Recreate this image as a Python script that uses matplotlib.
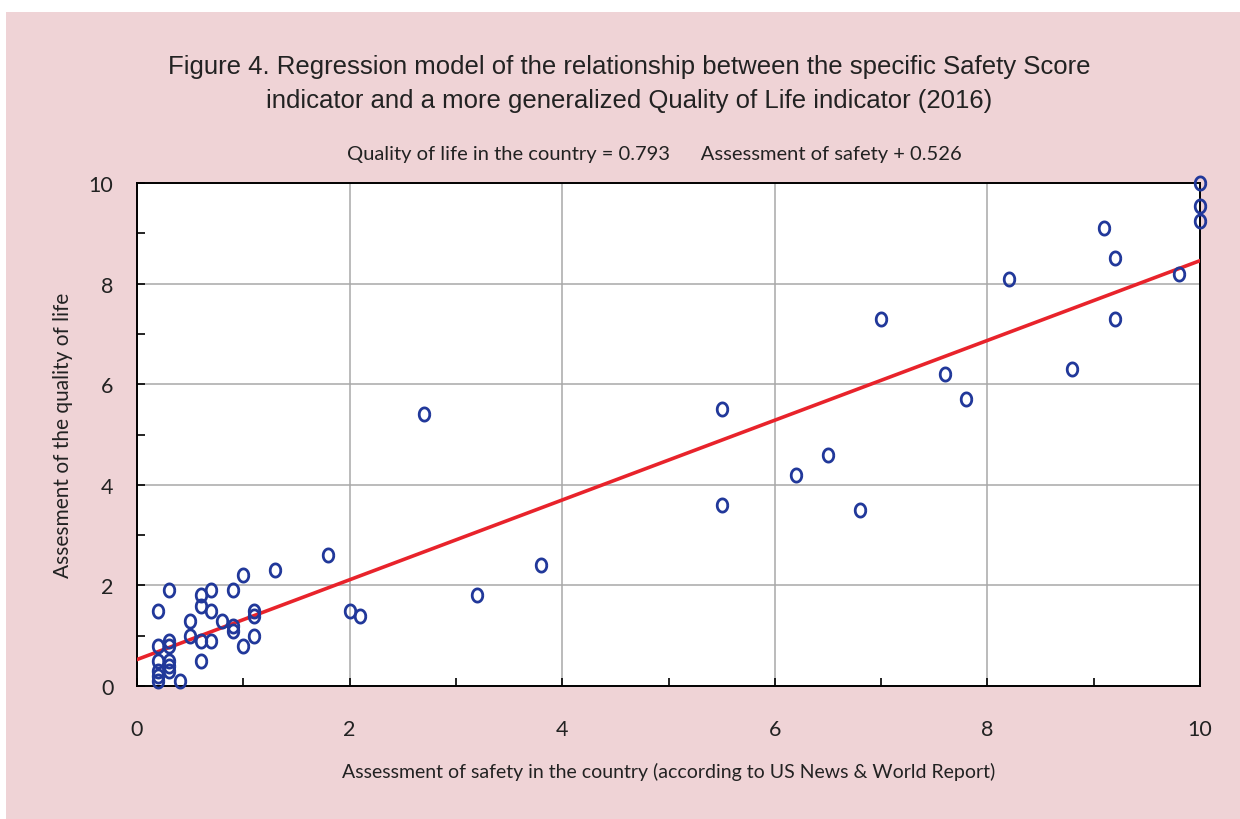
import matplotlib
matplotlib.use("Agg")
import matplotlib.pyplot as plt
import numpy as np
from matplotlib.patches import Rectangle
from matplotlib.ticker import MultipleLocator

# Assessment of safety (x) and quality of life (y)
safety = [0.2, 0.2, 0.2, 0.2, 0.2, 0.2,
          0.3, 0.3, 0.3, 0.3, 0.3, 0.3,
          0.4, 0.5, 0.5,
          0.6, 0.6, 0.6, 0.6,
          0.7, 0.7, 0.7, 0.8,
          0.9, 0.9, 0.9, 1.0, 1.0,
          1.1, 1.1, 1.1, 1.3, 1.8, 2.0, 2.1,
          2.7, 3.2, 3.8, 5.5, 5.5, 6.2, 6.5, 6.8, 7.0,
          7.6, 7.8, 8.2, 8.8, 9.1, 9.2, 9.2, 9.8, 10.0, 10.0, 10.0]
quality = [1.5, 0.8, 0.5, 0.3, 0.2, 0.1,
           1.9, 0.9, 0.8, 0.5, 0.4, 0.3,
           0.1, 1.3, 1.0,
           1.8, 1.6, 0.9, 0.5,
           1.9, 1.5, 0.9, 1.3,
           1.9, 1.2, 1.1, 2.2, 0.8,
           1.5, 1.4, 1.0, 2.3, 2.6, 1.5, 1.4,
           5.4, 1.8, 2.4, 5.5, 3.6, 4.2, 4.6, 3.5, 7.3,
           6.2, 5.7, 8.1, 6.3, 9.1, 8.5, 7.3, 8.2, 10.0, 9.55, 9.25]

slope = 0.793
intercept = 0.526

title = ("Figure 4. Regression model of the relationship between the specific Safety Score\n"
         "indicator and a more generalized Quality of Life indicator (2016)")
equation = "Quality of life in the country = 0.793      Assessment of safety + 0.526"
xlabel = "Assessment of safety in the country (according to US News & World Report)"
ylabel = "Assesment of the quality of life"

PINK = "#EFD3D6"
BLUE = "#21389A"
RED = "#E8232B"
TEXT = "#222222"
BODY_FONT = ["Lato", "DejaVu Sans"]
TITLE_FONT = ["Liberation Sans Narrow", "Liberation Sans", "DejaVu Sans"]

fig = plt.figure(figsize=(12.4, 8.2), dpi=100, facecolor="white")
fig.patches.append(Rectangle((6 / 1240, 0), 1, 807 / 820, transform=fig.transFigure,
                             facecolor=PINK, edgecolor="none", zorder=-10))

ax = fig.add_axes([137 / 1240, 133 / 820, 1063 / 1240, 503 / 820])
ax.set_facecolor("white")

# slightly tall "o" shaped marker
t = np.linspace(0, 2 * np.pi, 60)
oval = np.column_stack([0.8 * np.cos(t), np.sin(t)])

ax.plot(safety, quality, linestyle="none", marker=oval, markersize=9.5,
        markerfacecolor="none", markeredgecolor=BLUE, markeredgewidth=2.0,
        clip_on=False, zorder=4)

xs = np.array([0, 10])
ax.plot(xs, slope * xs + intercept, color=RED, linewidth=2.6, zorder=3)

ax.set_xlim(0, 10)
ax.set_ylim(0, 10)
ax.xaxis.set_major_locator(MultipleLocator(2))
ax.yaxis.set_major_locator(MultipleLocator(2))
ax.xaxis.set_minor_locator(MultipleLocator(1))
ax.yaxis.set_minor_locator(MultipleLocator(1))
ax.grid(True, which="major", color="#A8A8A8", linewidth=1.1)
ax.set_axisbelow(True)
ax.tick_params(which="both", direction="in", length=6, width=1.2, color="black")
ax.tick_params(axis="x", which="major", pad=24, labelsize=15.5)
ax.tick_params(axis="y", which="major", pad=17, labelsize=15.5)
for lab in ax.get_xticklabels() + ax.get_yticklabels():
    lab.set_family(BODY_FONT)
    lab.set_color(TEXT)
for sp in ax.spines.values():
    sp.set_linewidth(1.4)
    sp.set_color("black")

ax.set_xlabel(xlabel, fontsize=14, family=BODY_FONT, color=TEXT, labelpad=16)
ax.set_ylabel(ylabel, fontsize=15, family=BODY_FONT, color=TEXT, labelpad=11)

fig.text(629 / 1240, 1 - 84 / 820, title, ha="center", va="center", fontsize=18.5,
         family=TITLE_FONT, color=TEXT, linespacing=1.55)
fig.text(654 / 1240, 1 - 155 / 820, equation, ha="center", va="center", fontsize=14.5,
         family=BODY_FONT, color=TEXT)

fig.savefig("out.png", dpi=100, facecolor=fig.get_facecolor())
